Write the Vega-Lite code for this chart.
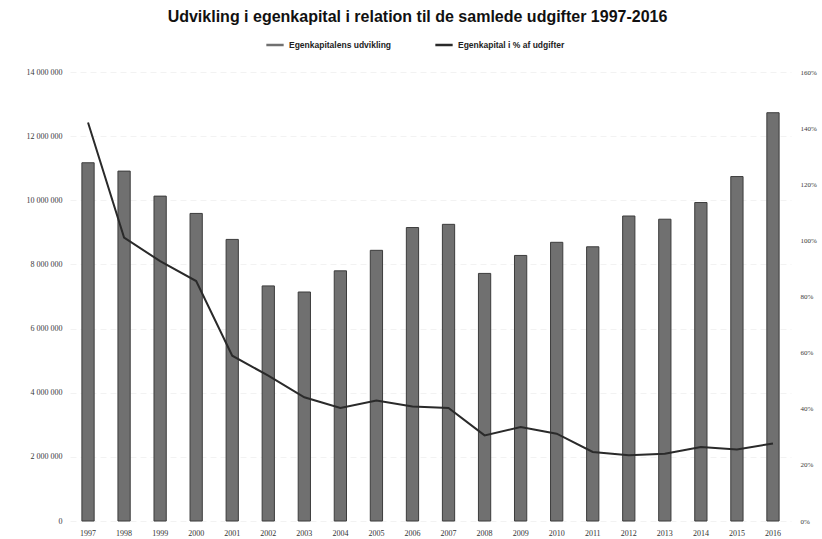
{
  "$schema": "https://vega.github.io/schema/vega-lite/v6.json",
  "width": 721,
  "height": 449,
  "autosize": {"type": "none"},
  "padding": {"left": 70, "top": 72, "right": 31, "bottom": 18},
  "background": "white",
  "config": {
    "locale": {"number": {"decimal": ",", "thousands": " ", "grouping": [3], "currency": ["", ""]}},
    "font": "Liberation Sans",
    "view": {"stroke": null}
  },
  "title": {
    "text": "Udvikling i egenkapital  i relation til de samlede udgifter 1997-2016",
    "fontSize": 16,
    "fontWeight": "bold",
    "color": "#111111",
    "anchor": "middle",
    "offset": 10,
    "dx": -13,
    "font": "Liberation Sans"
  },
  "data": {
    "values": [
      {"year": "1997", "kapital": 11170000, "pct": 1.42},
      {"year": "1998", "kapital": 10910000, "pct": 1.01},
      {"year": "1999", "kapital": 10130000, "pct": 0.926},
      {"year": "2000", "kapital": 9590000, "pct": 0.855},
      {"year": "2001", "kapital": 8780000, "pct": 0.589},
      {"year": "2002", "kapital": 7330000, "pct": 0.518},
      {"year": "2003", "kapital": 7140000, "pct": 0.441},
      {"year": "2004", "kapital": 7800000, "pct": 0.403},
      {"year": "2005", "kapital": 8440000, "pct": 0.429},
      {"year": "2006", "kapital": 9150000, "pct": 0.408},
      {"year": "2007", "kapital": 9250000, "pct": 0.403},
      {"year": "2008", "kapital": 7720000, "pct": 0.305},
      {"year": "2009", "kapital": 8280000, "pct": 0.335},
      {"year": "2010", "kapital": 8690000, "pct": 0.311},
      {"year": "2011", "kapital": 8550000, "pct": 0.246},
      {"year": "2012", "kapital": 9510000, "pct": 0.234},
      {"year": "2013", "kapital": 9410000, "pct": 0.24},
      {"year": "2014", "kapital": 9930000, "pct": 0.264},
      {"year": "2015", "kapital": 10740000, "pct": 0.255},
      {"year": "2016", "kapital": 12730000, "pct": 0.276}
    ]
  },
  "encoding": {
    "x": {
      "field": "year",
      "type": "ordinal",
      "scale": {"paddingInner": 0.66, "paddingOuter": 0.33},
      "axis": {
        "title": null,
        "labelAngle": 0,
        "domain": false,
        "ticks": false,
        "labelFontSize": 8,
        "labelColor": "#333333",
        "labelPadding": 8,
        "labelFont": "Liberation Serif"
      }
    }
  },
  "layer": [
    {
      "mark": {"type": "bar", "stroke": "#3c3c3c", "strokeWidth": 1},
      "encoding": {
        "y": {
          "field": "kapital",
          "type": "quantitative",
          "scale": {"domain": [0, 14000000]},
          "axis": {
            "title": null,
            "format": ",d",
            "values": [0, 2000000, 4000000, 6000000, 8000000, 10000000, 12000000, 14000000],
            "domain": false,
            "ticks": false,
            "labelFontSize": 8,
            "labelColor": "#3a3a3a",
            "labelPadding": 8,
            "labelFont": "Liberation Serif",
            "grid": true,
            "gridColor": "#f2f2f2",
            "gridDash": [6, 4]
          }
        },
        "color": {
          "datum": "Egenkapitalens udvikling",
          "type": "nominal",
          "scale": {
            "domain": ["Egenkapitalens udvikling", "Egenkapital i % af udgifter"],
            "range": ["#707070", "#2a2a2a"]
          },
          "legend": {
            "title": null,
            "orient": "none",
            "legendX": 195,
            "legendY": -37,
            "direction": "horizontal",
            "symbolType": "stroke",
            "symbolSize": 300,
            "symbolStrokeWidth": 2.5,
            "labelFontSize": 8.5,
            "labelFontWeight": "bold",
            "labelColor": "#222222",
            "columnPadding": 38
          }
        }
      }
    },
    {
      "mark": {"type": "line", "strokeWidth": 2},
      "encoding": {
        "y": {
          "field": "pct",
          "type": "quantitative",
          "scale": {"domain": [0, 1.6]},
          "axis": {
            "title": null,
            "orient": "right",
            "format": ".0%",
            "values": [0, 0.2, 0.4, 0.6, 0.8, 1.0, 1.2, 1.4, 1.6],
            "domain": false,
            "ticks": false,
            "grid": false,
            "labelFontSize": 7,
            "labelColor": "#3a3a3a",
            "labelPadding": 9,
            "labelFont": "Liberation Serif"
          }
        },
        "color": {
          "datum": "Egenkapital i % af udgifter",
          "type": "nominal"
        }
      }
    }
  ],
  "resolve": {"scale": {"y": "independent"}}
}
